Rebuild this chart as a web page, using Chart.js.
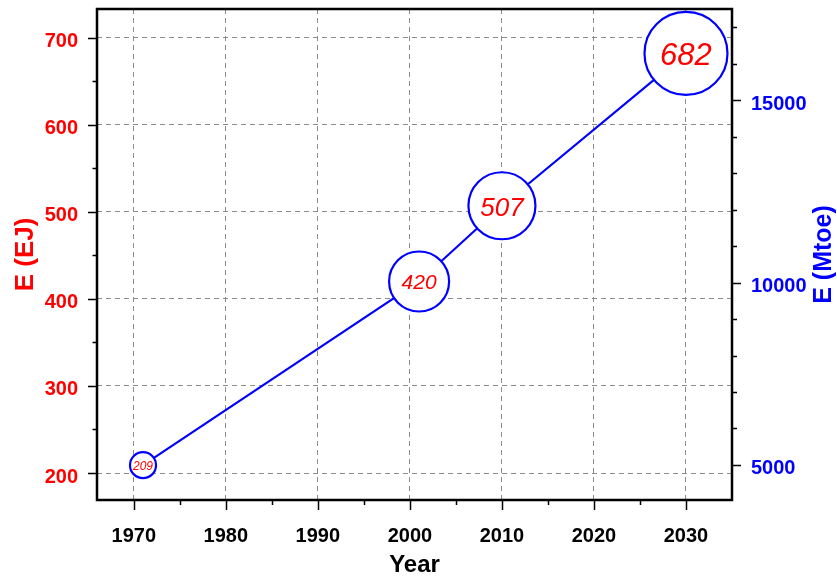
<!DOCTYPE html>
<html>
<head>
<meta charset="utf-8">
<script src="https://cdn.jsdelivr.net/npm/chart.js@4.4.0/dist/chart.umd.min.js"></script>
<style>
  body { margin: 0; background: #fff; }
  #wrap { width: 837px; height: 576px; }
</style>
</head>
<body>
<div id="wrap"><canvas id="graph" width="837" height="576"></canvas></div>
<script>
// data
var years = [1971, 2001, 2010, 2030];
var energyEJ = [209, 420, 507, 682];

// tick positions (majors get a label and a grid line)
var yearTicks = [1970, 1975, 1980, 1985, 1990, 1995, 2000, 2005, 2010, 2015, 2020, 2025, 2030];
var ejTicks = [200, 250, 300, 350, 400, 450, 500, 550, 600, 650, 700];
var mtoeTicks = [4000, 5000, 6000, 7000, 8000, 9000, 10000, 11000, 12000, 13000, 14000, 15000, 16000, 17000];

var EJ_PER_MTOE = 0.041868;
var xMin = 1966, xMax = 2035;
var ejMin = 169, ejMax = 733;

// circle sizes and label sizes per point
var pointSizes = [13, 30, 33.5, 41.5];
var labelSizes = [12, 21, 26, 31];

var FONT = '"Liberation Sans", Arial, Helvetica, sans-serif';
var RED = '#ff0000', BLUE = '#0000ff';
var GRID = '#8c8c8c';

var points = [];
for (var i = 0; i < years.length; i++) {
    points.push({x: years[i], y: energyEJ[i]});
}

function setTicks(list) {
    return function(scale) {
        scale.ticks = list.filter(function(v) {
            return v >= scale.min && v <= scale.max;
        }).map(function(v) { return {value: v}; });
    };
}

// fixed axis thickness, no extra padding for half labels
function fixSize(prop, size) {
    return function(scale) {
        scale[prop] = size;
        scale.paddingTop = 0;
        scale.paddingBottom = 0;
        scale.paddingLeft = 0;
        scale.paddingRight = 0;
    };
}

// minor / major tick marks and the frame round the plot
var frameAndTicks = {
    id: 'frameAndTicks',
    afterDraw: function(chart) {
        var ctx = chart.ctx, area = chart.chartArea;
        var sx = chart.scales.x, sy = chart.scales.y, sy2 = chart.scales.y2;
        ctx.save();
        ctx.strokeStyle = '#000';
        ctx.lineWidth = 1.5;
        ctx.beginPath();
        yearTicks.forEach(function(v) {
            var px = Math.round(sx.getPixelForValue(v)) + 0.5;
            var len = v % 10 === 0 ? 10 : 5;
            ctx.moveTo(px, area.bottom);
            ctx.lineTo(px, area.bottom + len);
        });
        ejTicks.forEach(function(v) {
            var py = Math.round(sy.getPixelForValue(v)) + 0.5;
            var len = v % 100 === 0 ? 9 : 4.5;
            ctx.moveTo(area.left, py);
            ctx.lineTo(area.left - len, py);
        });
        mtoeTicks.forEach(function(v) {
            if (v < sy2.min || v > sy2.max) return;
            var py = Math.round(sy2.getPixelForValue(v)) + 0.5;
            var len = v % 5000 === 0 ? 9 : 5;
            ctx.moveTo(area.right, py);
            ctx.lineTo(area.right + len, py);
        });
        ctx.stroke();

        ctx.lineWidth = 2.5;
        ctx.strokeRect(area.left, area.top, area.right - area.left, area.bottom - area.top);

        // right axis title, reading bottom to top
        ctx.fillStyle = BLUE;
        ctx.font = 'bold 25px ' + FONT;
        ctx.textAlign = 'center';
        ctx.textBaseline = 'middle';
        ctx.translate(824, (area.top + area.bottom) / 2);
        ctx.rotate(-Math.PI / 2);
        ctx.fillText('E (Mtoe)', 0, 0);
        ctx.restore();
    }
};

// value written inside each circle
var circleLabels = {
    id: 'circleLabels',
    afterDatasetsDraw: function(chart) {
        var ctx = chart.ctx;
        var meta = chart.getDatasetMeta(0);
        ctx.save();
        ctx.fillStyle = RED;
        ctx.textAlign = 'center';
        ctx.textBaseline = 'middle';
        meta.data.forEach(function(el, i) {
            ctx.font = 'italic ' + labelSizes[i] + 'px ' + FONT;
            ctx.fillText(String(energyEJ[i]), el.x, el.y + labelSizes[i] * 0.1);
        });
        ctx.restore();
    }
};

var ctx = document.getElementById('graph').getContext('2d');
var chart = new Chart(ctx, {
    type: 'line',
    data: {
        datasets: [{
            data: points,
            borderColor: BLUE,
            borderWidth: 2.2,
            pointBorderColor: BLUE,
            pointBackgroundColor: '#ffffff',
            pointBorderWidth: 2.2,
            pointRadius: pointSizes,
            pointHoverRadius: pointSizes,
            fill: false,
            tension: 0,
            clip: false
        }]
    },
    options: {
        responsive: false,
        animation: false,
        events: [],
        layout: {autoPadding: false, padding: {top: 9, left: 0, right: 0, bottom: 0}},
        plugins: {
            legend: {display: false},
            tooltip: {enabled: false}
        },
        scales: {
            x: {
                type: 'linear',
                position: 'bottom',
                min: xMin,
                max: xMax,
                afterBuildTicks: setTicks(yearTicks),
                afterFit: fixSize('height', 76),
                border: {display: false, dash: [5, 4]},
                grid: {
                    drawTicks: false,
                    lineWidth: 1,
                    color: function(c) {
                        return c.tick && c.tick.value % 10 === 0 ? GRID : 'rgba(0,0,0,0)';
                    }
                },
                ticks: {
                    autoSkip: false,
                    maxRotation: 0,
                    padding: 24,
                    color: '#000',
                    font: {family: FONT, size: 20, weight: 'bold'},
                    callback: function(v) { return v % 10 === 0 ? String(v) : ''; }
                },
                title: {
                    display: true,
                    text: 'Year',
                    color: '#000',
                    font: {family: FONT, size: 24, weight: 'bold', lineHeight: 0.9},
                    padding: {top: 0, bottom: 0}
                }
            },
            y: {
                type: 'linear',
                position: 'left',
                min: ejMin,
                max: ejMax,
                afterBuildTicks: setTicks(ejTicks),
                afterFit: fixSize('width', 97),
                border: {display: false, dash: [5, 4]},
                grid: {
                    drawTicks: false,
                    lineWidth: 1,
                    color: function(c) {
                        return c.tick && c.tick.value % 100 === 0 ? GRID : 'rgba(0,0,0,0)';
                    }
                },
                ticks: {
                    autoSkip: false,
                    padding: 19,
                    labelOffset: 4,
                    color: RED,
                    font: {family: FONT, size: 20, weight: 'bold'},
                    callback: function(v) { return v % 100 === 0 ? String(v) : ''; }
                },
                title: {
                    display: true,
                    text: 'E (EJ)',
                    color: RED,
                    font: {family: FONT, size: 26, weight: 'bold'},
                    padding: {top: 10, bottom: 0}
                }
            },
            y2: {
                type: 'linear',
                position: 'right',
                min: ejMin / EJ_PER_MTOE,
                max: ejMax / EJ_PER_MTOE,
                afterBuildTicks: setTicks(mtoeTicks),
                afterFit: fixSize('width', 105),
                border: {display: false},
                grid: {drawTicks: false, drawOnChartArea: false},
                ticks: {
                    autoSkip: false,
                    padding: 19,
                    labelOffset: 4,
                    color: BLUE,
                    font: {family: FONT, size: 20, weight: 'bold'},
                    callback: function(v) { return v % 5000 === 0 ? String(v) : ''; }
                }
            }
        }
    },
    plugins: [frameAndTicks, circleLabels]
});
</script>
</body>
</html>
